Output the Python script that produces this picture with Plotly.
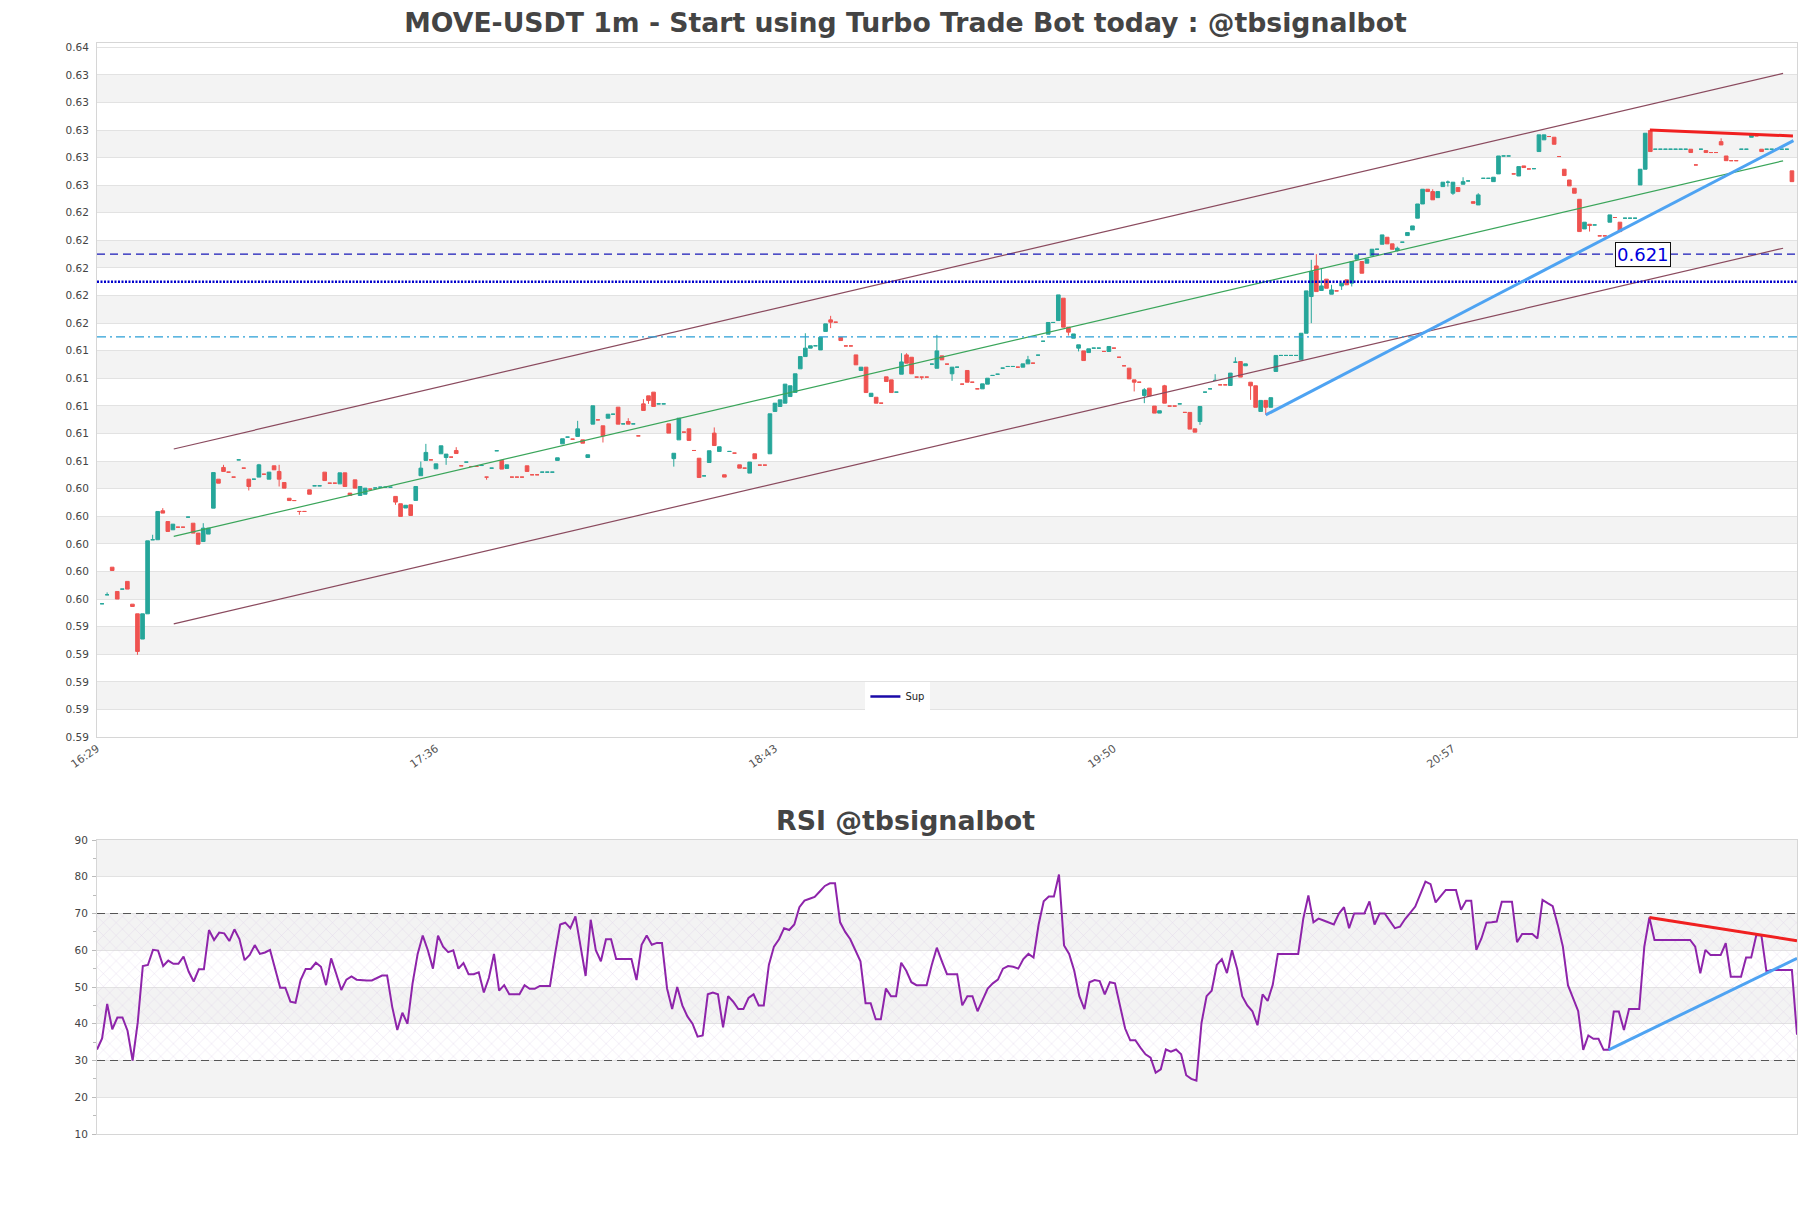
import plotly.graph_objects as go
import pandas as pd

DAY = "2024-05-20 "
first_candle = DAY + "16:30"

opens = [
    0.59566, 0.59631, 0.59831, 0.59655, 0.59672, 0.59728, 0.59563, 0.59493, 0.59310, 0.59493,
    0.60030, 0.60030, 0.60240, 0.60162, 0.60102, 0.60121, 0.60121, 0.60194, 0.60150, 0.60078,
    0.60017, 0.60071, 0.60259, 0.60469, 0.60554, 0.60520, 0.60484, 0.60609, 0.60549, 0.60469,
    0.60469, 0.60484, 0.60505, 0.60469, 0.60566, 0.60525, 0.60445, 0.60331, 0.60314, 0.60235,
    0.60235, 0.60392, 0.60421, 0.60421, 0.60520, 0.60440, 0.60440, 0.60435, 0.60515, 0.60368,
    0.60464, 0.60351, 0.60360, 0.60397, 0.60405, 0.60411, 0.60411, 0.60411, 0.60344, 0.60291,
    0.60260, 0.60283, 0.60315, 0.60494, 0.60605, 0.60609, 0.60544, 0.60653, 0.60626, 0.60629,
    0.60677, 0.60566, 0.60593, 0.60561, 0.60561, 0.60568, 0.60484, 0.60549, 0.60675, 0.60605,
    0.60547, 0.60484, 0.60484, 0.60484, 0.60566, 0.60501, 0.60501, 0.60520, 0.60520, 0.60520,
    0.60605, 0.60725, 0.60774, 0.60759, 0.60779, 0.60754, 0.60626, 0.60868, 0.60899, 0.60856,
    0.60911, 0.60940, 0.60991, 0.60870, 0.60887, 0.60870, 0.60783, 0.61015, 0.61073, 0.61100,
    0.61015, 0.61015, 0.60870, 0.60618, 0.60754, 0.60810, 0.60834, 0.60677, 0.60621, 0.60493,
    0.60590, 0.60803, 0.60670, 0.60501, 0.60670, 0.60658, 0.60573, 0.60549, 0.60513, 0.60653,
    0.60571, 0.60571, 0.60653, 0.60960, 0.60996, 0.61020, 0.61068, 0.61098, 0.61269, 0.61358,
    0.61419, 0.61436, 0.61406, 0.61540, 0.61624, 0.61607, 0.61496, 0.61435, 0.61435, 0.61370,
    0.61257, 0.61281, 0.61068, 0.61063, 0.61020, 0.61211, 0.61189, 0.61100, 0.61230, 0.61370,
    0.61353, 0.61209, 0.61209, 0.61209, 0.61303, 0.61273, 0.61363, 0.61303, 0.61233, 0.61281,
    0.61158, 0.61257, 0.61172, 0.61124, 0.61124, 0.61158, 0.61221, 0.61230, 0.61274, 0.61286,
    0.61286, 0.61281, 0.61281, 0.61305, 0.61310, 0.61368, 0.61469, 0.61520, 0.61605, 0.61619,
    0.61781, 0.61571, 0.61491, 0.61419, 0.61399, 0.61387, 0.61419, 0.61419, 0.61395, 0.61395,
    0.61419, 0.61353, 0.61291, 0.61274, 0.61189, 0.61172, 0.61076, 0.61129, 0.60999, 0.60948,
    0.61146, 0.60999, 0.60999, 0.61015, 0.60953, 0.60953, 0.60834, 0.60887, 0.61100, 0.61124,
    0.61185, 0.61153, 0.61153, 0.61148, 0.61317, 0.61322, 0.61291, 0.61172, 0.61146, 0.60960,
    0.61040, 0.60990, 0.61250, 0.61366, 0.61366, 0.61366, 0.61366, 0.61334, 0.61527, 0.61793,
    0.62015, 0.61837, 0.61919, 0.61810, 0.61834, 0.61870, 0.61914, 0.61890, 0.62064, 0.62047,
    0.62035, 0.62088, 0.62136, 0.62172, 0.62223, 0.62175, 0.62126, 0.62187, 0.62235, 0.62276,
    0.62361, 0.62464, 0.62571, 0.62554, 0.62510, 0.62590, 0.62622, 0.62542, 0.62583, 0.62607,
    0.62631, 0.62481, 0.62457, 0.62650, 0.62650, 0.62626, 0.62682, 0.62812, 0.62812, 0.62682,
    0.62667, 0.62740, 0.62718, 0.62720, 0.62844, 0.62929, 0.62953, 0.62948, 0.62808, 0.62716,
    0.62638, 0.62578, 0.62498, 0.62283, 0.62317, 0.62312, 0.62233, 0.62233, 0.62332, 0.62366,
    0.62332, 0.62361, 0.62361, 0.62361, 0.62602, 0.62716, 0.62996, 0.62861, 0.62861, 0.62861,
    0.62861, 0.62861, 0.62861, 0.62861, 0.62861, 0.62747, 0.62861, 0.62851, 0.62837, 0.62837,
    0.62916, 0.62812, 0.62778, 0.62778, 0.62861, 0.62861, 0.62948, 0.62958, 0.62861, 0.62861,
    0.62861, 0.62861, 0.62861, 0.62861, 0.62704,
]

closes = [
    0.59566, 0.59631, 0.59807, 0.59600, 0.59672, 0.59672, 0.59546, 0.59220, 0.59493, 0.60022,
    0.60030, 0.60235, 0.60223, 0.60090, 0.60143, 0.60121, 0.60121, 0.60194, 0.60078, 0.59998,
    0.60114, 0.60114, 0.60517, 0.60440, 0.60525, 0.60520, 0.60484, 0.60609, 0.60549, 0.60416,
    0.60469, 0.60573, 0.60505, 0.60520, 0.60537, 0.60469, 0.60404, 0.60314, 0.60314, 0.60235,
    0.60235, 0.60360, 0.60421, 0.60421, 0.60459, 0.60440, 0.60440, 0.60515, 0.60416, 0.60351,
    0.60404, 0.60416, 0.60404, 0.60397, 0.60405, 0.60411, 0.60411, 0.60411, 0.60303, 0.60199,
    0.60280, 0.60206, 0.60416, 0.60549, 0.60663, 0.60609, 0.60580, 0.60711, 0.60651, 0.60629,
    0.60655, 0.60566, 0.60593, 0.60561, 0.60561, 0.60568, 0.60484, 0.60549, 0.60675, 0.60542,
    0.60573, 0.60484, 0.60484, 0.60484, 0.60525, 0.60501, 0.60501, 0.60520, 0.60520, 0.60520,
    0.60624, 0.60762, 0.60774, 0.60759, 0.60834, 0.60730, 0.60646, 0.61001, 0.60899, 0.60783,
    0.60940, 0.60940, 0.60868, 0.60870, 0.60868, 0.60870, 0.60783, 0.60967, 0.61039, 0.60996,
    0.61015, 0.61015, 0.60803, 0.60657, 0.60911, 0.60810, 0.60750, 0.60677, 0.60481, 0.60493,
    0.60675, 0.60713, 0.60704, 0.60484, 0.60670, 0.60658, 0.60549, 0.60549, 0.60593, 0.60617,
    0.60571, 0.60571, 0.60943, 0.61020, 0.61044, 0.61158, 0.61146, 0.61233, 0.61358, 0.61419,
    0.61436, 0.61436, 0.61498, 0.61595, 0.61607, 0.61607, 0.61474, 0.61435, 0.61435, 0.61298,
    0.61281, 0.61097, 0.61092, 0.61020, 0.61020, 0.61177, 0.61097, 0.61100, 0.61319, 0.61310,
    0.61233, 0.61209, 0.61209, 0.61209, 0.61303, 0.61399, 0.61334, 0.61303, 0.61281, 0.61281,
    0.61158, 0.61172, 0.61172, 0.61124, 0.61160, 0.61201, 0.61221, 0.61230, 0.61274, 0.61286,
    0.61286, 0.61281, 0.61305, 0.61334, 0.61310, 0.61368, 0.61469, 0.61605, 0.61605, 0.61805,
    0.61571, 0.61535, 0.61522, 0.61443, 0.61329, 0.61414, 0.61419, 0.61419, 0.61395, 0.61431,
    0.61419, 0.61353, 0.61291, 0.61196, 0.61172, 0.61172, 0.61117, 0.61073, 0.60948, 0.60965,
    0.61020, 0.60999, 0.60999, 0.61015, 0.60953, 0.60832, 0.60810, 0.60996, 0.61100, 0.61124,
    0.61185, 0.61153, 0.61153, 0.61238, 0.61317, 0.61209, 0.61305, 0.61146, 0.60990, 0.61040,
    0.60990, 0.61060, 0.61366, 0.61366, 0.61366, 0.61366, 0.61366, 0.61527, 0.61834, 0.61974,
    0.61829, 0.61870, 0.61853, 0.61841, 0.61834, 0.61890, 0.61878, 0.62047, 0.62095, 0.61962,
    0.62064, 0.62136, 0.62136, 0.62240, 0.62175, 0.62136, 0.62143, 0.62187, 0.62257, 0.62305,
    0.62464, 0.62571, 0.62554, 0.62494, 0.62554, 0.62622, 0.62622, 0.62622, 0.62554, 0.62626,
    0.62631, 0.62469, 0.62530, 0.62650, 0.62650, 0.62658, 0.62812, 0.62812, 0.62812, 0.62682,
    0.62735, 0.62728, 0.62718, 0.62720, 0.62965, 0.62965, 0.62953, 0.62897, 0.62808, 0.62670,
    0.62595, 0.62542, 0.62264, 0.62332, 0.62308, 0.62312, 0.62233, 0.62233, 0.62385, 0.62366,
    0.62264, 0.62361, 0.62361, 0.62361, 0.62716, 0.62977, 0.62844, 0.62861, 0.62861, 0.62861,
    0.62861, 0.62861, 0.62861, 0.62861, 0.62837, 0.62747, 0.62861, 0.62837, 0.62837, 0.62837,
    0.62892, 0.62778, 0.62778, 0.62778, 0.62861, 0.62861, 0.62969, 0.62958, 0.62844, 0.62861,
    0.62861, 0.62861, 0.62861, 0.62861, 0.62626,
]

wick_highs = {1: 0.59648, 10: 0.60066, 12: 0.60259, 20: 0.60150, 24: 0.60573, 31: 0.60580,
              35: 0.60573, 63: 0.60597, 64: 0.60725, 70: 0.60701, 94: 0.60892, 104: 0.60911,
              107: 0.61049, 121: 0.60844, 139: 0.61527, 144: 0.61653, 158: 0.61382,
              159: 0.61382, 165: 0.61515, 183: 0.61363, 206: 0.61129, 210: 0.61153,
              220: 0.61230, 224: 0.61353, 239: 0.62059, 240: 0.62100, 241: 0.61998,
              243: 0.61878, 256: 0.62155, 263: 0.62571, 266: 0.62634, 269: 0.62658,
              272: 0.62542, 320: 0.62940, 326: 0.62976}
wick_lows = {7: 0.59196, 29: 0.60387, 35: 0.60416, 39: 0.60211, 58: 0.60283, 68: 0.60573,
             76: 0.60465, 99: 0.60735, 108: 0.61015, 113: 0.60560, 144: 0.61564, 162: 0.61190,
             168: 0.61182, 191: 0.61510, 193: 0.61395, 204: 0.61105, 206: 0.61020,
             217: 0.60863, 227: 0.61044, 230: 0.60935, 239: 0.61600, 245: 0.61841,
             247: 0.61866, 256: 0.62119, 266: 0.62590, 267: 0.62530, 294: 0.62264}

rsi_values = [
    33.0, 36.0, 45.4, 38.5, 41.7, 41.7, 38.1, 30.0, 40.3, 55.7,
    56.0, 60.1, 59.9, 55.7, 57.2, 56.3, 56.3, 58.3, 54.2, 51.5,
    54.8, 54.8, 65.5, 62.8, 64.8, 64.6, 62.5, 65.7, 63.0, 57.3,
    58.7, 61.4, 59.0, 59.4, 60.1, 55.1, 49.8, 49.8, 46.0, 45.7,
    51.9, 54.9, 54.9, 56.6, 55.5, 50.5, 57.8, 53.6, 49.2, 52.0,
    52.9, 52.0, 51.8, 51.8, 51.8, 52.5, 53.1, 53.1, 44.6, 38.3,
    43.0, 40.0, 51.0, 59.0, 64.0, 60.0, 55.0, 64.0, 61.0, 59.5,
    60.0, 55.0, 56.5, 53.5, 53.5, 54.0, 48.5, 52.5, 59.0, 49.0,
    50.5, 48.0, 48.0, 48.0, 50.5, 49.5, 49.5, 50.3, 50.3, 50.3,
    59.0, 67.0, 67.5, 66.0, 69.2, 61.0, 53.0, 68.3, 60.0, 57.0,
    63.0, 63.0, 57.6, 57.6, 57.6, 57.6, 51.9, 61.5, 64.0, 61.5,
    62.0, 62.0, 49.6, 44.0, 50.0, 45.0, 42.0, 40.0, 36.5, 36.8,
    48.0, 48.5, 48.0, 39.0, 47.5, 46.0, 44.0, 44.0, 47.0, 48.0,
    45.0, 45.0, 56.0, 61.0, 63.0, 66.0, 65.5, 67.0, 71.7, 73.5,
    74.0, 74.5, 76.0, 77.5, 78.2, 78.2, 67.6, 65.0, 63.0, 60.0,
    57.0, 45.6, 45.6, 41.2, 41.2, 49.6, 47.5, 47.5, 56.6, 54.4,
    51.3, 50.5, 50.5, 50.5, 56.0, 60.7, 57.0, 53.5, 53.5, 53.5,
    45.0, 47.5, 47.5, 43.4, 46.5, 49.6, 51.0, 52.0, 55.0, 55.7,
    55.5, 55.0, 57.6, 59.0, 58.0, 67.0, 73.3, 74.6, 74.6, 80.6,
    61.3, 59.0, 54.4, 47.5, 44.0, 51.3, 51.9, 51.6, 48.0, 51.3,
    51.0, 45.0, 38.7, 35.5, 35.5, 33.5, 31.7, 30.8, 26.7, 27.6,
    33.0, 32.4, 33.0, 31.7, 26.0, 25.0, 24.5, 40.2, 47.5, 49.0,
    56.0, 57.6, 53.8, 60.0, 55.0, 47.5, 45.0, 43.4, 39.6, 48.0,
    46.2, 50.6, 59.0, 59.0, 59.0, 59.0, 59.0, 68.6, 74.9, 67.6,
    68.6, 68.1, 67.6, 67.0, 70.0, 71.7, 66.0, 70.0, 70.0, 70.0,
    73.3, 67.0, 70.0, 70.0, 68.0, 66.0, 66.4, 68.5, 70.2, 71.9,
    75.3, 78.7, 78.0, 73.0, 74.7, 76.4, 76.4, 76.4, 71.0, 73.5,
    73.5, 60.1, 63.2, 67.5, 67.6, 67.8, 73.2, 73.2, 73.2, 62.2,
    64.4, 64.4, 64.4, 63.2, 73.7, 72.8, 72.0, 66.9, 61.0, 50.5,
    46.9, 43.5, 32.9, 36.8, 35.9, 35.9, 32.9, 32.9, 43.3, 43.3,
    38.3, 44.0, 44.0, 44.0, 61.0, 68.9, 62.8, 62.8, 62.8, 62.8,
    62.8, 62.8, 62.8, 62.8, 61.0, 53.7, 60.1, 58.7, 58.7, 58.7,
    61.9, 52.8, 52.8, 52.8, 58.0, 58.0, 64.1, 64.1, 54.2, 54.6,
    54.6, 54.6, 54.6, 54.6, 37.0,
]

x_tick_labels = ["16:29", "17:36", "18:43", "19:50", "20:57"]
price_ticks = [0.586, 0.588, 0.590, 0.592, 0.594, 0.596, 0.598, 0.600, 0.602, 0.604,
               0.606, 0.608, 0.610, 0.612, 0.614, 0.616, 0.618, 0.620, 0.622, 0.624,
               0.626, 0.628, 0.630, 0.632, 0.634, 0.636]
price_bands = [(0.588, 0.590), (0.592, 0.594), (0.596, 0.598), (0.600, 0.602),
               (0.604, 0.606), (0.608, 0.610), (0.612, 0.614), (0.616, 0.618),
               (0.620, 0.622), (0.624, 0.626), (0.628, 0.630), (0.632, 0.634)]
rsi_ticks = [10, 20, 30, 40, 50, 60, 70, 80, 90]
rsi_bands = [(20, 30), (40, 50), (60, 70), (80, 90)]
rsi_zone = (30, 70)

resistance_level = 0.621
sup_level = 0.619
pivot_level = 0.615

channel_times = ["16:44:10", "22:02:15"]
channel_mid = [0.60054, 0.62777]
channel_half_width = 0.00634

blue_trend_times = ["20:20:00", "22:04:18"]
blue_trend_values = [0.60935, 0.62923]
red_trend_times = ["21:35:55", "22:04:12"]
red_trend_values = [0.63001, 0.62957]
rsi_red_times = ["21:35:00", "22:04:00"]
rsi_red_values = [68.9, 62.6]
rsi_blue_times = ["21:27:00", "22:04:00"]
rsi_blue_values = [32.9, 57.8]

# ---------------------------------------------------------------
t = pd.date_range(first_candle, periods=len(opens), freq="min")
highs = [max(o, c, wick_highs.get(i, 0)) for i, (o, c) in enumerate(zip(opens, closes))]
lows = [min(o, c, wick_lows.get(i, 1)) for i, (o, c) in enumerate(zip(opens, closes))]
rsi_t = pd.date_range(first_candle, periods=len(rsi_values), freq="min")

def T(s):
    return pd.Timestamp(DAY + s)

x_range = [T("16:29:00"), T("22:05:00")]
tickvals = [T(s) for s in x_tick_labels]

FONT = "DejaVu Sans"
GREEN = "#26a69a"
RED = "#ef5350"

fig = go.Figure()

fig.add_trace(go.Candlestick(
    x=t, open=opens, high=highs, low=lows, close=closes,
    increasing=dict(line=dict(color=GREEN, width=1), fillcolor=GREEN),
    decreasing=dict(line=dict(color=RED, width=1), fillcolor=RED),
    whiskerwidth=0, showlegend=False, xaxis="x", yaxis="y",
))

# channel
fig.add_trace(go.Scatter(x=[T(s) for s in channel_times],
                         y=[v + channel_half_width for v in channel_mid],
                         mode="lines", line=dict(color="#8a4a5e", width=1.2),
                         showlegend=False, xaxis="x", yaxis="y"))
fig.add_trace(go.Scatter(x=[T(s) for s in channel_times],
                         y=[v - channel_half_width for v in channel_mid],
                         mode="lines", line=dict(color="#8a4a5e", width=1.2),
                         showlegend=False, xaxis="x", yaxis="y"))
fig.add_trace(go.Scatter(x=[T(s) for s in channel_times], y=channel_mid,
                         mode="lines", line=dict(color="#3aa55a", width=1.2),
                         showlegend=False, xaxis="x", yaxis="y"))

# horizontal levels
fig.add_trace(go.Scatter(x=x_range, y=[pivot_level, pivot_level], mode="lines",
                         line=dict(color="#2a9fd6", width=1.3, dash="9px,4px,2px,4px"),
                         showlegend=False, xaxis="x", yaxis="y"))
fig.add_trace(go.Scatter(x=x_range, y=[sup_level, sup_level], mode="lines",
                         line=dict(color="#0000cc", width=2.6, dash="2px,1.5px"),
                         showlegend=False, xaxis="x", yaxis="y"))
fig.add_trace(go.Scatter(x=x_range, y=[resistance_level, resistance_level], mode="lines",
                         line=dict(color="#1a1ab8", width=1.3, dash="8px,5px"),
                         showlegend=False, xaxis="x", yaxis="y"))
fig.add_trace(go.Scatter(x=[None], y=[None], mode="lines", name="Sup",
                         line=dict(color="#1a0aa8", width=2.5),
                         showlegend=True, xaxis="x", yaxis="y"))

# trend lines
fig.add_trace(go.Scatter(x=[T(s) for s in blue_trend_times], y=blue_trend_values,
                         mode="lines", line=dict(color="#4ea3f2", width=3),
                         showlegend=False, xaxis="x", yaxis="y"))
fig.add_trace(go.Scatter(x=[T(s) for s in red_trend_times], y=red_trend_values,
                         mode="lines", line=dict(color="#f02020", width=3),
                         showlegend=False, xaxis="x", yaxis="y"))

# RSI hatch zone
fig.add_trace(go.Scatter(
    x=[rsi_t[0], rsi_t[-1], rsi_t[-1], rsi_t[0], rsi_t[0]],
    y=[rsi_zone[0], rsi_zone[0], rsi_zone[1], rsi_zone[1], rsi_zone[0]],
    mode="lines", line=dict(width=0), fill="toself", fillcolor="rgba(0,0,0,0)",
    fillpattern=dict(shape="x", size=9, solidity=0.07, fgcolor="#d6c3e3",
                     bgcolor="rgba(0,0,0,0)", fgopacity=0.9),
    hoverinfo="skip", showlegend=False, xaxis="x2", yaxis="y2"))

for lvl in rsi_zone:
    fig.add_trace(go.Scatter(x=[rsi_t[0], rsi_t[-1]], y=[lvl, lvl], mode="lines",
                             line=dict(color="#555555", width=1.2, dash="8px,5px"),
                             showlegend=False, xaxis="x2", yaxis="y2"))

fig.add_trace(go.Scatter(x=rsi_t, y=rsi_values, mode="lines",
                         line=dict(color="#8e24aa", width=2),
                         showlegend=False, xaxis="x2", yaxis="y2"))
fig.add_trace(go.Scatter(x=[T(s) for s in rsi_red_times], y=rsi_red_values,
                         mode="lines", line=dict(color="#f02020", width=3),
                         showlegend=False, xaxis="x2", yaxis="y2"))
fig.add_trace(go.Scatter(x=[T(s) for s in rsi_blue_times], y=rsi_blue_values,
                         mode="lines", line=dict(color="#4ea3f2", width=3),
                         showlegend=False, xaxis="x2", yaxis="y2"))

shapes = []
for lo, hi in price_bands:
    shapes.append(dict(type="rect", xref="x domain", yref="y", x0=0, x1=1, y0=lo, y1=hi,
                       fillcolor="#f3f3f3", line=dict(width=0), layer="below"))
for lo, hi in rsi_bands:
    shapes.append(dict(type="rect", xref="x2 domain", yref="y2", x0=0, x1=1, y0=lo, y1=hi,
                       fillcolor="#f3f3f3", line=dict(width=0), layer="below"))

W, H = 1811, 1208
ML, MR, MT, MB = 97, 14, 43, 74
plot_h = H - MT - MB
main_bottom = (H - MB - 737) / plot_h
rsi_top = (H - MB - 840) / plot_h

axis_common = dict(showline=True, linecolor="#d6d6d6", mirror=True, zeroline=False,
                   automargin=False)

fig.update_layout(
    width=W, height=H,
    margin=dict(l=ML, r=MR, t=MT, b=MB),
    paper_bgcolor="white", plot_bgcolor="white",
    font=dict(family=FONT, color="#4d4d4d", size=10),
    title=dict(text="<b>MOVE-USDT 1m - Start using Turbo Trade Bot today : @tbsignalbot</b>",
               x=0.5, xref="container", xanchor="center",
               y=1 - 23 / H, yref="container", yanchor="middle",
               font=dict(family=FONT, size=26.7, color="#444444")),
    boxgap=0.2, boxgroupgap=0.1,
    xaxis=dict(domain=[0, 1], anchor="y", range=x_range, tickvals=tickvals,
               ticktext=x_tick_labels, tickangle=-35, showgrid=False,
               rangeslider=dict(visible=False), tickfont=dict(size=11, color="#555555"),
               ticks="", **axis_common),
    yaxis=dict(domain=[main_bottom, 1], anchor="x", range=[0.586, 0.63631],
               tickvals=price_ticks, ticktext=["%.2f" % v for v in price_ticks],
               gridcolor="#e2e2e2", gridwidth=1, tickfont=dict(size=10.5, color="#444444"),
               ticks="", ticklabelstandoff=5, **axis_common),
    xaxis2=dict(domain=[0, 1], anchor="y2", range=[rsi_t[0], rsi_t[-1]],
                showticklabels=False, showgrid=False, ticks="", **axis_common),
    yaxis2=dict(domain=[0, rsi_top], anchor="x2", range=[10, 90], tickvals=rsi_ticks,
                gridcolor="#e2e2e2", tickfont=dict(size=10.5, color="#444444"),
                ticks="outside", ticklen=4, tickcolor="#bbbbbb", ticklabelstandoff=2,
                minor=dict(dtick=5, tick0=5, ticks="outside", ticklen=3,
                           tickcolor="#bbbbbb", showgrid=False),
                **axis_common),
    shapes=shapes,
    legend=dict(x=0.452, y=(H - MB - 682) / plot_h, xanchor="left", yanchor="top",
                bgcolor="white", font=dict(size=10, color="#222222"),
                borderwidth=0, itemwidth=30),
    annotations=[
        dict(text="<b>RSI @tbsignalbot</b>", xref="paper", yref="paper",
             x=(905 - ML) / (W - ML - MR), y=(H - MB - 820) / plot_h,
             xanchor="center", yanchor="middle", showarrow=False,
             font=dict(family=FONT, size=26.8, color="#444444")),
        dict(text="0.621", xref="x", yref="y", x=T("21:34:36"), y=resistance_level,
             xanchor="center", yanchor="middle", showarrow=False,
             font=dict(family=FONT, size=18, color="#0000dd"),
             bgcolor="white", bordercolor="#111111", borderwidth=1, borderpad=1),
    ],
)

fig.write_html("out.html", config={"displayModeBar": False},
               post_script="document.body.style.margin='0';")
